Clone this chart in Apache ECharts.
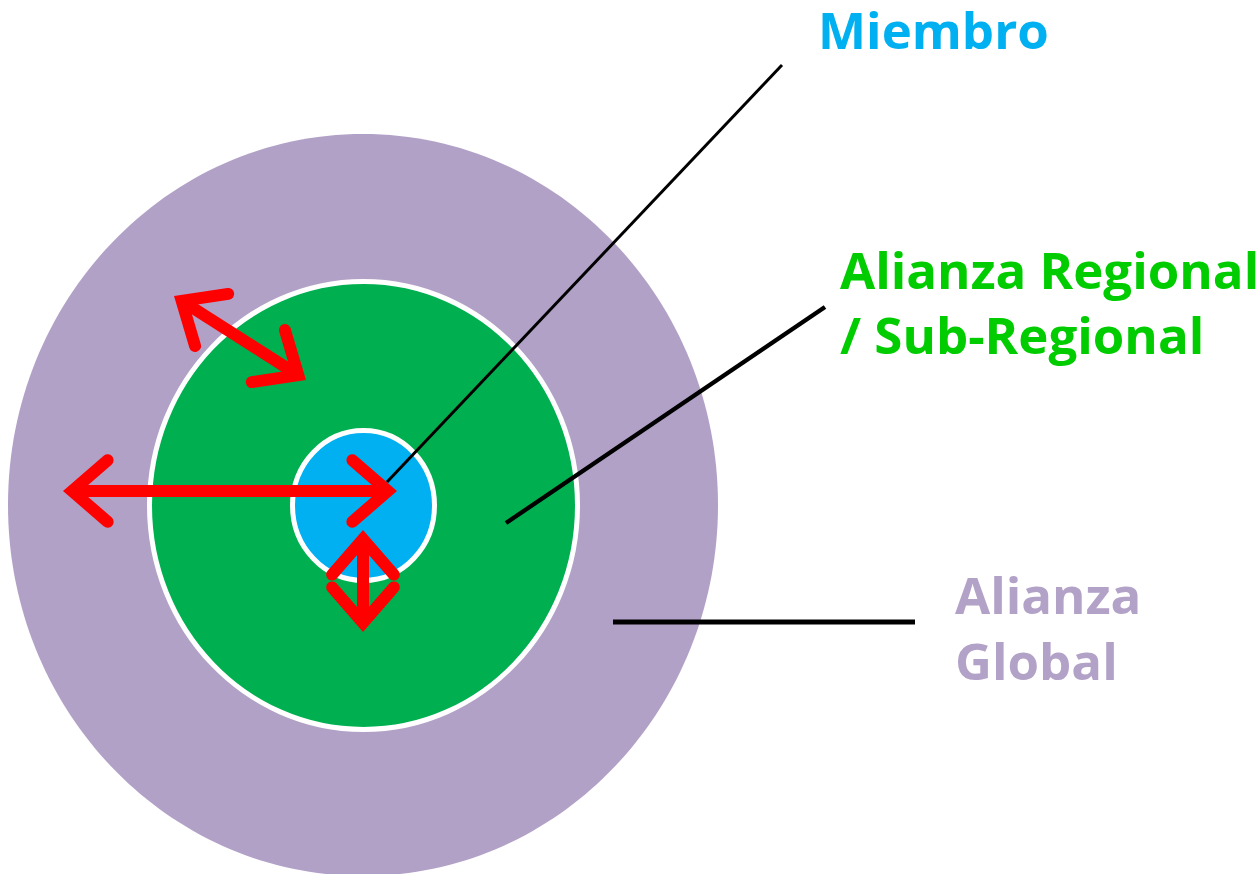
<!DOCTYPE html>
<html>
<head>
<meta charset="utf-8">
<script src="https://cdn.jsdelivr.net/npm/echarts@6/dist/echarts.min.js"></script>
<style>
html,body{margin:0;padding:0;background:#fff;}
#main{width:1260px;height:874px;}
</style>
</head>
<body>
<div id="main"></div>
<script>
// ---- data ----
const circleNames = ['Alianza Global', 'Alianza Regional / Sub-Regional', 'Miembro'];
const circleCX = [363, 363.5, 363.5];
const circleCY = [505, 505.5, 505.5];
const circleRX = [355, 214, 71];
const circleRY = [371, 224, 75];

const arrowX1 = [63, 363, 174];
const arrowY1 = [491, 530, 296];
const arrowX2 = [397, 363, 306];
const arrowY2 = [491, 632, 380];

const leaderX1 = [387, 506, 613];
const leaderY1 = [482, 523, 622];
const leaderX2 = [782, 825, 915];
const leaderY2 = [65, 307, 622];

const labelLines = ['Miembro', 'Alianza Regional', '/ Sub-Regional', 'Alianza', 'Global'];

// ---- layout / style ----
const labelX = [818, 840, 840, 955, 955];
const labelY = [34, 274.5, 339.5, 599.5, 665];
const labelColor = ['#00B0F0', '#00CC00', '#00CC00', '#B3A2C7', '#B3A2C7'];
const circleFill = ['#B2A1C7', '#00B050', '#00B0F0'];
const circleStroke = [null, '#FFFFFF', '#FFFFFF'];
const leaderWidth = [3, 4.5, 5];
const FONT = 'bold 51px "Open Sans"';
const ARROW_W = 12, HEAD_LEN = 47, HEAD_ANG = 41 * Math.PI / 180;

const chart = echarts.init(document.getElementById('main'), null, {renderer: 'canvas'});

const circleData = circleCX.map((x, i) => [x, circleCY[i], circleRX[i], circleRY[i]]);
const arrowData = arrowX1.map((x, i) => [x, arrowY1[i], arrowX2[i], arrowY2[i]]);
const leaderData = leaderX1.map((x, i) => [x, leaderY1[i], leaderX2[i], leaderY2[i]]);
const labelData = labelLines.map((t, i) => [labelX[i], labelY[i], t]);

function rot(u, a) {
  return [u[0] * Math.cos(a) - u[1] * Math.sin(a), u[0] * Math.sin(a) + u[1] * Math.cos(a)];
}

chart.setOption({
  animation: false,
  backgroundColor: '#FFFFFF',
  grid: {left: 0, right: 0, top: 0, bottom: 0},
  xAxis: {type: 'value', min: 0, max: 1260, show: false},
  yAxis: {type: 'value', min: 0, max: 874, inverse: true, show: false},
  series: [
    {
      type: 'custom', name: 'circles', data: circleData, z: 1,
      renderItem: function (params, api) {
        const i = params.dataIndex;
        const c = api.coord([api.value(0), api.value(1)]);
        const rx = api.size([api.value(2), 0])[0];
        const ry = api.size([0, api.value(3)])[1];
        return {
          type: 'ellipse',
          shape: {cx: c[0], cy: c[1], rx: rx, ry: ry},
          style: {fill: circleFill[i], stroke: circleStroke[i], lineWidth: circleStroke[i] ? 5 : 0}
        };
      }
    },
    {
      type: 'custom', name: 'leaders', data: leaderData, z: 2,
      renderItem: function (params, api) {
        const i = params.dataIndex;
        const a = api.coord([api.value(0), api.value(1)]);
        const b = api.coord([api.value(2), api.value(3)]);
        return {
          type: 'line',
          shape: {x1: a[0], y1: a[1], x2: b[0], y2: b[1]},
          style: {stroke: '#000000', lineWidth: leaderWidth[i], lineCap: 'butt'}
        };
      }
    },
    {
      type: 'custom', name: 'arrows', data: arrowData, z: 3,
      renderItem: function (params, api) {
        const p1 = api.coord([api.value(0), api.value(1)]);
        const p2 = api.coord([api.value(2), api.value(3)]);
        const dx = p2[0] - p1[0], dy = p2[1] - p1[1];
        const len = Math.sqrt(dx * dx + dy * dy);
        const u = [dx / len, dy / len];
        const d = (ARROW_W / 2) / Math.sin(HEAD_ANG);
        const t1 = [p1[0] + u[0] * d, p1[1] + u[1] * d];
        const t2 = [p2[0] - u[0] * d, p2[1] - u[1] * d];
        const st = {stroke: '#FF0000', lineWidth: ARROW_W, fill: null, lineCap: 'round', lineJoin: 'miter', miterLimit: 10};
        const r1 = rot(u, HEAD_ANG), r2 = rot(u, -HEAD_ANG);
        const head2 = [[t2[0] - r1[0] * HEAD_LEN, t2[1] - r1[1] * HEAD_LEN], t2, [t2[0] - r2[0] * HEAD_LEN, t2[1] - r2[1] * HEAD_LEN]];
        const head1 = [[t1[0] + r1[0] * HEAD_LEN, t1[1] + r1[1] * HEAD_LEN], t1, [t1[0] + r2[0] * HEAD_LEN, t1[1] + r2[1] * HEAD_LEN]];
        return {
          type: 'group',
          children: [
            {type: 'line', shape: {x1: t1[0] + u[0] * 4, y1: t1[1] + u[1] * 4, x2: t2[0] - u[0] * 4, y2: t2[1] - u[1] * 4},
             style: {stroke: '#FF0000', lineWidth: ARROW_W, lineCap: 'butt'}},
            {type: 'polyline', shape: {points: head1}, style: st},
            {type: 'polyline', shape: {points: head2}, style: st}
          ]
        };
      }
    },
    {
      type: 'custom', name: 'labels', data: labelData, z: 4,
      renderItem: function (params, api) {
        const i = params.dataIndex;
        const p = api.coord([api.value(0), api.value(1)]);
        return {
          type: 'text',
          style: {text: labelLines[i], x: p[0], y: p[1], fill: labelColor[i], font: FONT, align: 'left', verticalAlign: 'middle'}
        };
      }
    }
  ]
});
</script>
</body>
</html>
